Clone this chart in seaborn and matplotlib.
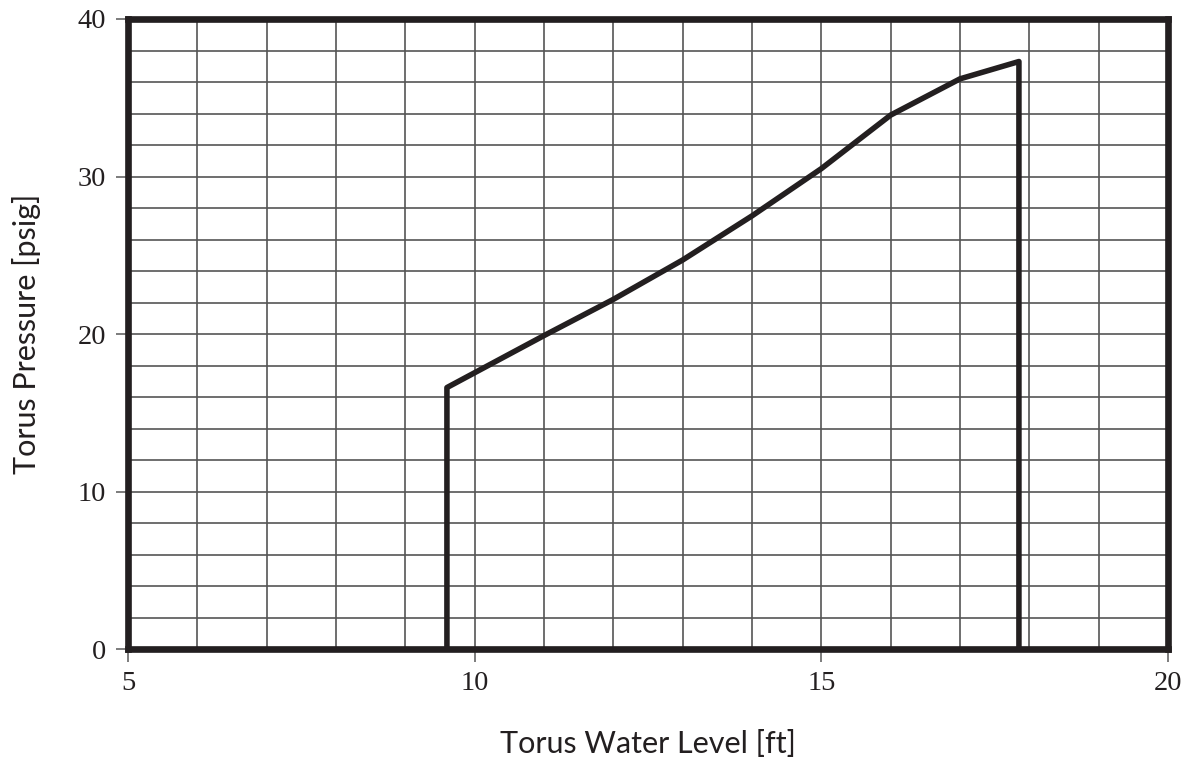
import matplotlib.pyplot as plt
import pandas as pd
import seaborn as sns
from matplotlib.ticker import MultipleLocator

# torus pressure limit curve
water_level = [9.6, 9.6, 11.0, 12.0, 13.0, 14.0, 15.0, 16.0, 17.0, 17.85, 17.85]
pressure = [0.0, 16.6, 19.9, 22.2, 24.7, 27.5, 30.5, 33.9, 36.2, 37.3, 0.0]

x_ticks = [5, 10, 15, 20]
y_ticks = [0, 10, 20, 30, 40]

INK = "#231f20"


def main() -> None:
    sns.set_theme(style="white")
    plt.rcParams["font.family"] = ["Liberation Serif", "DejaVu Serif"]

    curve = pd.DataFrame({"level": water_level, "pressure": pressure})

    fig = plt.figure(figsize=(11.95, 7.6), dpi=100)
    ax = fig.add_axes([0.1071, 0.146, 0.8703, 0.829])

    sns.lineplot(
        data=curve, x="level", y="pressure", sort=False, estimator=None,
        color=INK, linewidth=4.0, ax=ax, zorder=5,
    )

    ax.set_xlim(5, 20)
    ax.set_ylim(0, 40)
    ax.set_xticks(x_ticks)
    ax.set_yticks(y_ticks)
    ax.xaxis.set_minor_locator(MultipleLocator(1))
    ax.yaxis.set_minor_locator(MultipleLocator(2))
    ax.grid(True, which="both", color="#555555", linewidth=1.2)
    ax.set_axisbelow(True)

    ax.tick_params(which="major", direction="out", length=9, width=1.2,
                   color="#666666", labelsize=20.5, labelcolor=INK, pad=7,
                   bottom=True, left=True)
    ax.tick_params(which="minor", length=0)

    for spine in ax.spines.values():
        spine.set_visible(True)
        spine.set_color(INK)
        spine.set_linewidth(4.8)
        spine.set_zorder(6)

    label_font = {"family": ["Lato", "DejaVu Sans"], "size": 22, "color": INK}
    ax.set_xlabel("Torus Water Level [ft]", fontdict=label_font, labelpad=24)
    ax.set_ylabel("Torus Pressure [psig]", fontdict=label_font, labelpad=26)

    fig.savefig("out.png", dpi=100)
    plt.close(fig)


if __name__ == "__main__":
    main()
